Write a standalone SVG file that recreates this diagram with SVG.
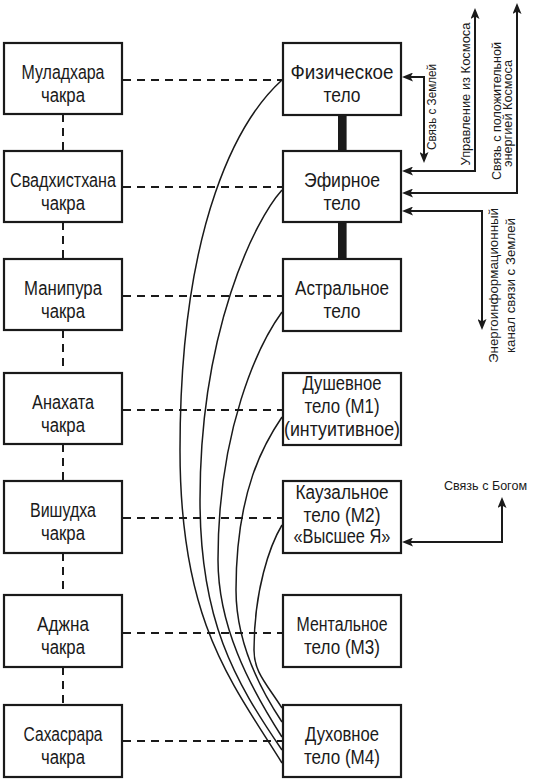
<svg xmlns="http://www.w3.org/2000/svg" width="541" height="782" viewBox="0 0 541 782">
<style>
.box{fill:#fff;stroke:#1a1a1a;stroke-width:2.2}
.t{font-family:"Liberation Sans",Arial,sans-serif;font-size:20px;fill:#1a1a1a;text-anchor:middle}
.s{font-family:"Liberation Sans",Arial,sans-serif;font-size:13px;fill:#1a1a1a;text-anchor:middle}
.dash{fill:none;stroke:#1a1a1a;stroke-width:2;stroke-dasharray:8 6}
.curve{fill:none;stroke:#1a1a1a;stroke-width:1.5}
.arr{fill:none;stroke:#1a1a1a;stroke-width:2;marker-start:url(#ah);marker-end:url(#ah)}
.bar{fill:#1a1a1a}
</style>
<defs>
<marker id="ah" viewBox="0 0 11 9" refX="8" refY="4.5" markerWidth="11" markerHeight="9" markerUnits="userSpaceOnUse" orient="auto-start-reverse">
<path d="M0,0 L11,4.5 L0,9 L2.5,4.5 z" fill="#1a1a1a"/>
</marker>
</defs>
<rect width="541" height="782" fill="#fff"/>
<g id="connectors">
<path class="dash" d="M63,114 V151 M63,222 V259 M63,330 V373 M63,444 V481 M63,553 V595 M63,667 V705"/>
<path class="dash" d="M123,80 H283 M123,187 H283 M123,296 H283 M123,410 H283 M123,518 H283 M123,633 H283 M123,741 H283"/>
<rect class="bar" x="338" y="115" width="8.6" height="36"/>
<rect class="bar" x="338" y="222" width="8.6" height="37"/>
<path class="curve" d="M282,80 C240,118 180,220 180,450 C180,620 230,680 282,763"/>
<path class="curve" d="M282,190 C255,220 200,330 200,500 C200,620 234,680 282,750"/>
<path class="curve" d="M282,312 C258,345 218,430 218,560 C218,625 248,684 282,737"/>
<path class="curve" d="M282,417 C265,442 236,490 236,590 C236,640 258,686 282,722"/>
<path class="curve" d="M282,525 C270,545 254,590 254,650 C254,672 266,683 282,708"/>
<path class="arr" d="M405,77 H424 V160"/>
<path class="arr" d="M405,171 H475 V11"/>
<path class="arr" d="M405,193 H517 V6"/>
<path class="arr" d="M405,211 H482 V327"/>
<path class="arr" d="M405,542 H502 V500"/>
</g>
<g id="muladhara"><rect class="box" x="4" y="43" width="118" height="71"/><text class="t" x="63" y="79" textLength="83" lengthAdjust="spacingAndGlyphs">Муладхара</text><text class="t" x="63" y="102" textLength="44" lengthAdjust="spacingAndGlyphs">чакра</text></g>
<g id="svadhisthana"><rect class="box" x="4" y="151" width="118" height="71"/><text class="t" x="63" y="187" textLength="106" lengthAdjust="spacingAndGlyphs">Свадхистхана</text><text class="t" x="63" y="210" textLength="44" lengthAdjust="spacingAndGlyphs">чакра</text></g>
<g id="manipura"><rect class="box" x="4" y="259" width="118" height="71"/><text class="t" x="63" y="295" textLength="78" lengthAdjust="spacingAndGlyphs">Манипура</text><text class="t" x="63" y="318" textLength="44" lengthAdjust="spacingAndGlyphs">чакра</text></g>
<g id="anahata"><rect class="box" x="4" y="373" width="118" height="71"/><text class="t" x="63" y="409" textLength="62" lengthAdjust="spacingAndGlyphs">Анахата</text><text class="t" x="63" y="432" textLength="44" lengthAdjust="spacingAndGlyphs">чакра</text></g>
<g id="vishudha"><rect class="box" x="4" y="481" width="118" height="72"/><text class="t" x="63" y="517" textLength="66" lengthAdjust="spacingAndGlyphs">Вишудха</text><text class="t" x="63" y="540" textLength="44" lengthAdjust="spacingAndGlyphs">чакра</text></g>
<g id="adjna"><rect class="box" x="4" y="595" width="118" height="72"/><text class="t" x="63" y="631" textLength="52" lengthAdjust="spacingAndGlyphs">Аджна</text><text class="t" x="63" y="654" textLength="44" lengthAdjust="spacingAndGlyphs">чакра</text></g>
<g id="sahasrara"><rect class="box" x="4" y="705" width="118" height="72"/><text class="t" x="63" y="741" textLength="79" lengthAdjust="spacingAndGlyphs">Сахасрара</text><text class="t" x="63" y="764" textLength="44" lengthAdjust="spacingAndGlyphs">чакра</text></g>
<g id="physical"><rect class="box" x="283" y="43" width="118" height="72"/><text class="t" x="342" y="79" textLength="103" lengthAdjust="spacingAndGlyphs">Физическое</text><text class="t" x="342" y="102" textLength="37" lengthAdjust="spacingAndGlyphs">тело</text></g>
<g id="etheric"><rect class="box" x="283" y="151" width="118" height="71"/><text class="t" x="342" y="187" textLength="76" lengthAdjust="spacingAndGlyphs">Эфирное</text><text class="t" x="342" y="210" textLength="37" lengthAdjust="spacingAndGlyphs">тело</text></g>
<g id="astral"><rect class="box" x="283" y="259" width="118" height="72"/><text class="t" x="342" y="295" textLength="94" lengthAdjust="spacingAndGlyphs">Астральное</text><text class="t" x="342" y="318" textLength="37" lengthAdjust="spacingAndGlyphs">тело</text></g>
<g id="soul"><rect class="box" x="283" y="373" width="118" height="72"/><text class="t" x="342" y="390" textLength="79" lengthAdjust="spacingAndGlyphs">Душевное</text><text class="t" x="342" y="413" textLength="75" lengthAdjust="spacingAndGlyphs">тело (М1)</text><text class="t" x="342" y="436" textLength="116" lengthAdjust="spacingAndGlyphs">(интуитивное)</text></g>
<g id="causal"><rect class="box" x="283" y="481" width="118" height="72"/><text class="t" x="342" y="499" textLength="93" lengthAdjust="spacingAndGlyphs">Каузальное</text><text class="t" x="342" y="522" textLength="77" lengthAdjust="spacingAndGlyphs">тело (М2)</text><text class="t" x="342" y="543" textLength="97" lengthAdjust="spacingAndGlyphs">«Высшее Я»</text></g>
<g id="mental"><rect class="box" x="283" y="595" width="118" height="72"/><text class="t" x="342" y="631" textLength="91" lengthAdjust="spacingAndGlyphs">Ментальное</text><text class="t" x="342" y="654" textLength="76" lengthAdjust="spacingAndGlyphs">тело (М3)</text></g>
<g id="spiritual"><rect class="box" x="283" y="705" width="118" height="72"/><text class="t" x="342" y="741" textLength="74" lengthAdjust="spacingAndGlyphs">Духовное</text><text class="t" x="342" y="764" textLength="76" lengthAdjust="spacingAndGlyphs">тело (М4)</text></g>
<g id="labels">
<text class="s" transform="translate(436,107) rotate(-90)" textLength="86" lengthAdjust="spacingAndGlyphs">Связь с Землей</text>
<text class="s" transform="translate(470,94) rotate(-90)" textLength="143" lengthAdjust="spacingAndGlyphs">Управление из Космоса</text>
<text class="s" transform="translate(501,111) rotate(-90)" textLength="138" lengthAdjust="spacingAndGlyphs">Связь с положительной</text>
<text class="s" transform="translate(512,113.5) rotate(-90)" textLength="107" lengthAdjust="spacingAndGlyphs">энергией Космоса</text>
<text class="s" transform="translate(498,285.5) rotate(-90)" textLength="155" lengthAdjust="spacingAndGlyphs">Энергоинформационный</text>
<text class="s" transform="translate(515,285.5) rotate(-90)" textLength="135" lengthAdjust="spacingAndGlyphs">канал связи с Землей</text>
<text class="s" x="485.5" y="490" textLength="83" lengthAdjust="spacingAndGlyphs">Связь с Богом</text>
</g>
</svg>
